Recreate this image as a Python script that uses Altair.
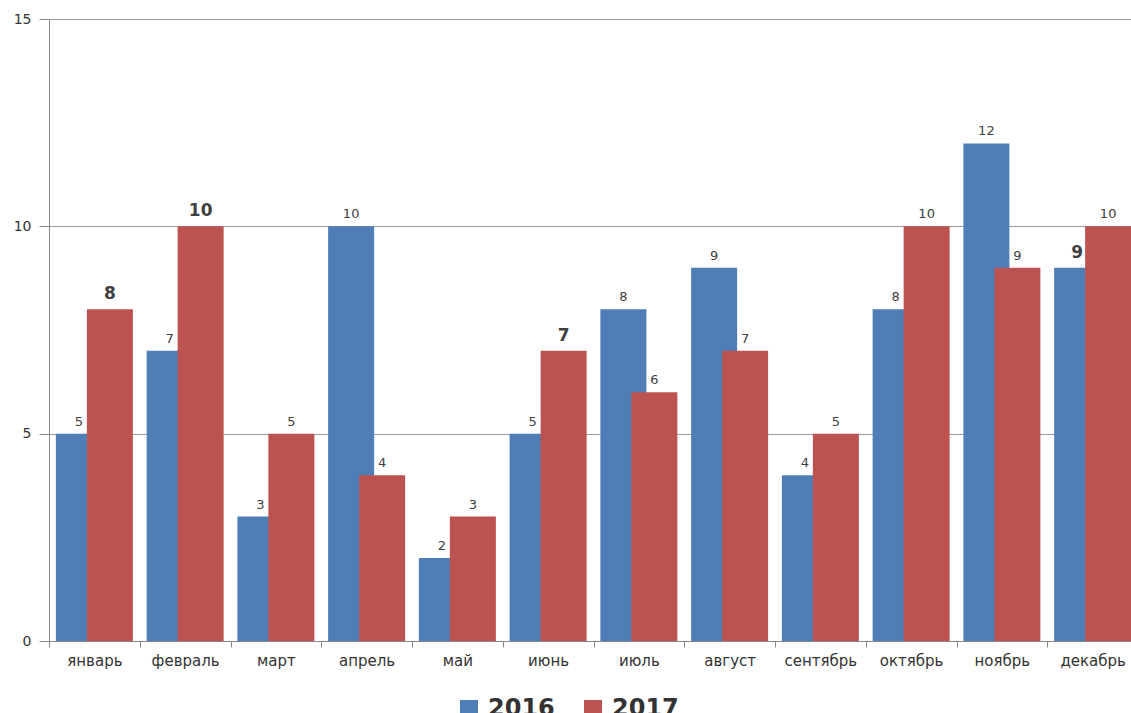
import altair as alt
import pandas as pd

# Monthly counts, two years side by side
months = ["январь", "февраль", "март", "апрель", "май", "июнь",
          "июль", "август", "сентябрь", "октябрь", "ноябрь", "декабрь"]
years = ["2016", "2017"]
values_2016 = [5, 7, 3, 10, 2, 5, 8, 9, 4, 8, 12, 9]
values_2017 = [8, 10, 5, 4, 3, 7, 6, 7, 5, 10, 9, 10]

# labels drawn larger and bold
emphasized = {("2017", "январь"), ("2017", "февраль"), ("2017", "июнь"), ("2016", "декабрь")}

rows = []
for year, vals in zip(years, [values_2016, values_2017]):
    for m, v in zip(months, vals):
        rows.append({"month": m, "year": year, "value": v,
                     "strong": (year, m) in emphasized})
df = pd.DataFrame(rows)

colors = ["#4F7EB7", "#BD5351"]
FONT = "DejaVu Sans"
offsets = {"2016": -15.5, "2017": 15.5}

x_enc = alt.X(
    "month:N", sort=months,
    scale=alt.Scale(range=[0, 1089], paddingInner=0, paddingOuter=0),
    axis=alt.Axis(title=None, tickBand="extent", tickSize=6, labelAngle=0,
                  labelFont=FONT, labelFontSize=15, labelColor="#333333",
                  labelPadding=6, domainColor="#888888", tickColor="#888888",
                  grid=False),
)
y_enc = alt.Y(
    "value:Q",
    scale=alt.Scale(domain=[0, 15], nice=False),
    axis=alt.Axis(title=None, values=[0, 5, 10, 15], tickSize=10, labelPadding=8,
                  labelFont=FONT, labelFontSize=14, labelColor="#333333",
                  domainColor="#888888", tickColor="#888888",
                  gridColor="#9a9a9a", gridWidth=1),
)
color_enc = alt.Color(
    "year:N",
    scale=alt.Scale(domain=years, range=colors),
    legend=alt.Legend(title=None, orient="none", legendX=408, legendY=678,
                      direction="horizontal", symbolType="square", symbolSize=324,
                      symbolStrokeWidth=0, labelFont=FONT, labelFontSize=24,
                      labelFontWeight="bold", labelColor="#333333", labelOffset=7,
                      columnPadding=26, padding=0),
)

base = alt.Chart(df)
layers = []
for year in years:
    layers.append(
        base.transform_filter(alt.datum.year == year)
        .mark_bar(width=46, xOffset=offsets[year])
        .encode(x=x_enc, y=y_enc, color=color_enc)
    )
for year in years:
    for strong in [False, True]:
        layers.append(
            base.transform_filter((alt.datum.year == year) & (alt.datum.strong == strong))
            .mark_text(xOffset=offsets[year], dy=-10 if strong else -8,
                       baseline="alphabetic", font=FONT,
                       fontSize=17 if strong else 13,
                       fontWeight="bold" if strong else "normal",
                       color="#404040")
            .encode(x=x_enc, y=y_enc, text="value:Q")
        )

chart = (
    alt.layer(*layers)
    .properties(width=1082, height=622,
                padding={"left": 49, "top": 19, "right": 0, "bottom": 72},
                autosize=alt.AutoSizeParams(type="none"),
                background="white")
    .configure_view(stroke=None)
)

chart.save("out.html", embed_options={"renderer": "svg", "actions": False})
